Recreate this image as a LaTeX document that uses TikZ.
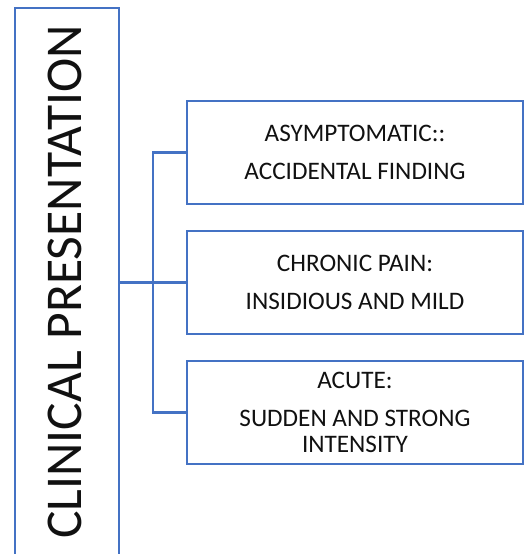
\documentclass[tikz,border=0pt]{standalone}
\usepackage{fontspec}
\setmainfont{Carlito}
\usetikzlibrary{positioning}
\definecolor{frameblue}{HTML}{4472C4}
\definecolor{ink}{HTML}{111111}
\tikzset{
  wire/.style={draw=frameblue, line width=1.2pt},
  itembox/.style={wire, fill=white, minimum width=168pt, minimum height=51.5pt, inner sep=0pt, align=center, font=\fontsize{12.6}{13.4}\selectfont},
  framebox/.style={wire, minimum width=52pt, minimum height=281pt, inner sep=0pt}
}

\begin{document}
\begin{tikzpicture}[x=0.5pt, y=0.5pt, text=ink, node distance=12.3pt]
  \useasboundingbox (0,0) rectangle (524,-554);
  \clip (0,0) rectangle (524,-554);
  % left frame, runs past the lower edge
  \node[framebox] (frame) at (67,-289) {};
  \node[rotate=90, font=\fontsize{25.8}{30}\selectfont] (title) at (65,-282) {CLINICAL PRESENTATION};

  \node[itembox] (asym) at (355,-152.5) {ASYMPTOMATIC::\\[5.6pt]ACCIDENTAL FINDING};
  \node[itembox, below=of asym] (chronic) {CHRONIC PAIN:\\[5.6pt]INSIDIOUS AND MILD};
  \node[itembox, below=of chronic] (acute) {ACUTE:\\[5.6pt]SUDDEN AND STRONG\\INTENSITY};

  \coordinate (trunk) at (153,0);
  \draw[wire] (frame.east |- chronic.west) -- (chronic.west);
  \draw[wire] (asym.west) -| (trunk |- acute.west) -- (acute.west);
\end{tikzpicture}
\end{document}
